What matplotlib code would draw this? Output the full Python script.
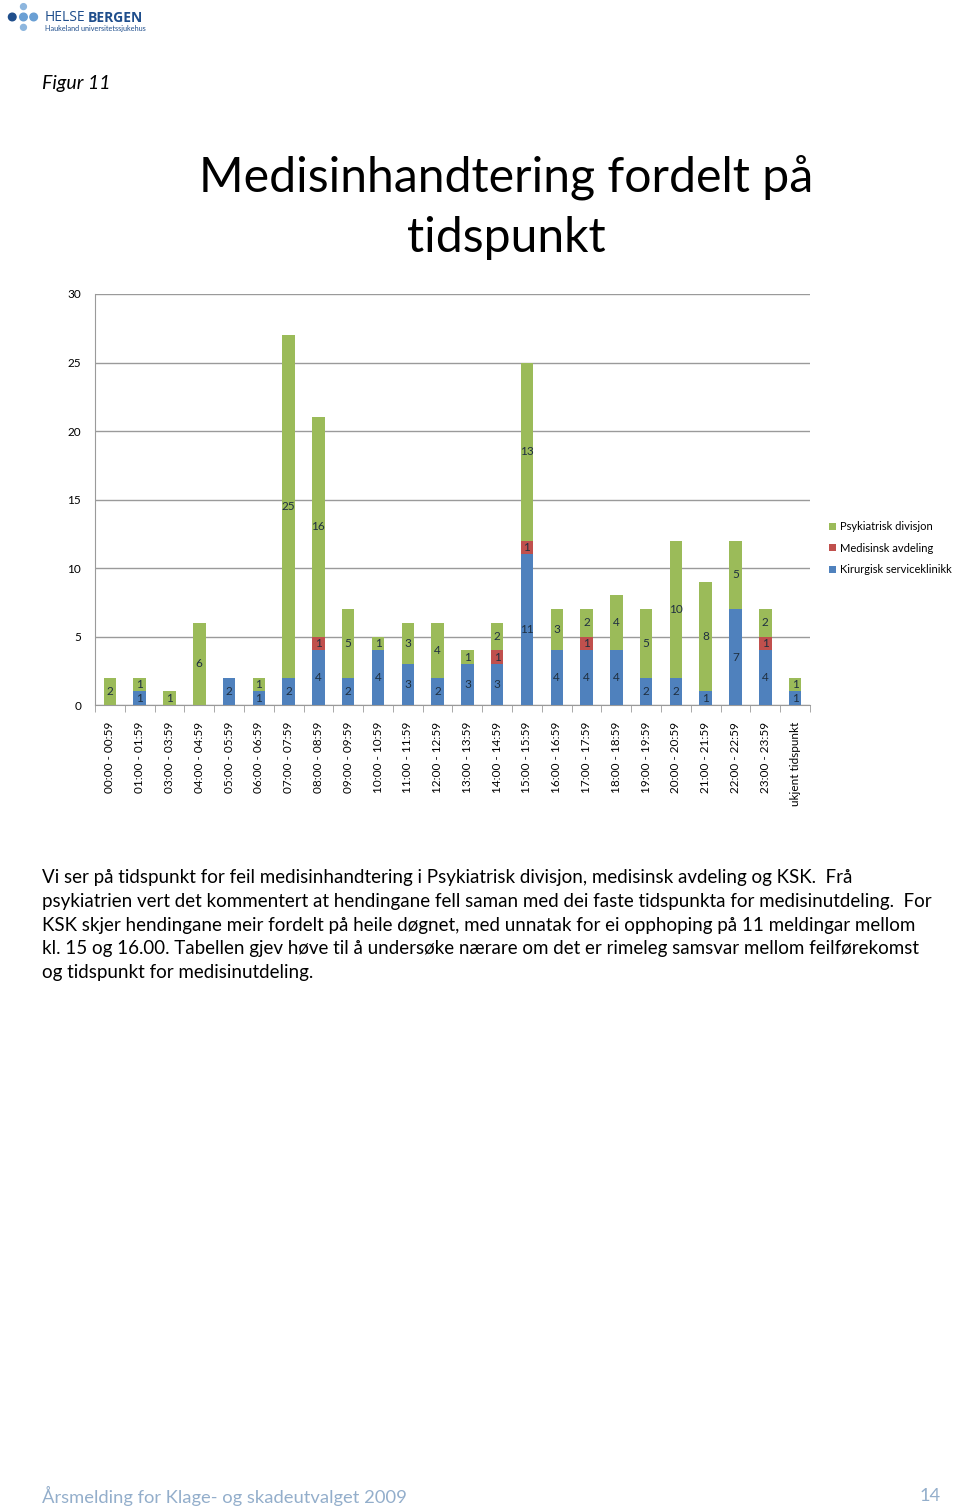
import matplotlib
matplotlib.use("Agg")
import matplotlib.pyplot as plt
import numpy as np

# data
tider = ['00:00 - 00:59', '01:00 - 01:59', '03:00 - 03:59', '04:00 - 04:59',
         '05:00 - 05:59', '06:00 - 06:59', '07:00 - 07:59', '08:00 - 08:59',
         '09:00 - 09:59', '10:00 - 10:59', '11:00 - 11:59', '12:00 - 12:59',
         '13:00 - 13:59', '14:00 - 14:59', '15:00 - 15:59', '16:00 - 16:59',
         '17:00 - 17:59', '18:00 - 18:59', '19:00 - 19:59', '20:00 - 20:59',
         '21:00 - 21:59', '22:00 - 22:59', '23:00 - 23:59', 'ukjent tidspunkt']
kirurgisk = [0, 1, 0, 0, 2, 1, 2, 4, 2, 4, 3, 2, 3, 3, 11, 4, 4, 4, 2, 2, 1, 7, 4, 1]
medisinsk = [0, 0, 0, 0, 0, 0, 0, 1, 0, 0, 0, 0, 0, 1, 1, 0, 1, 0, 0, 0, 0, 0, 1, 0]
psykiatri = [2, 1, 1, 6, 0, 1, 25, 16, 5, 1, 3, 4, 1, 2, 13, 3, 2, 4, 5, 10, 8, 5, 2, 1]

serier = [('Kirurgisk serviceklinikk', kirurgisk, '#4F81BD'),
          ('Medisinsk avdeling', medisinsk, '#C0504D'),
          ('Psykiatrisk divisjon', psykiatri, '#9BBB59')]

plt.rcParams['font.family'] = ['Lato', 'DejaVu Sans']

fig = plt.figure(figsize=(9.6, 15.09), dpi=100)

# logo
logo = fig.add_axes([0, 0.975, 0.17, 0.025])
logo.set_xlim(0, 160)
logo.set_ylim(40, 0)
logo.axis('off')
logo.scatter([12, 23, 33, 23, 23], [18, 18, 18, 7, 29], s=[30, 30, 30, 18, 18],
             c=['#1F4E8C', '#6A9FD4', '#6A9FD4', '#8DB6DE', '#8DB6DE'])
logo.text(44, 19, 'HELSE', color='#1F4E8C', fontsize=10, va='center', family='Open Sans')
logo.text(86, 19, 'BERGEN', color='#1F4E8C', fontsize=10, va='center', weight='bold', family='Open Sans')
logo.text(44, 30, 'Haukeland universitetssjukehus', color='#1F4E8C', fontsize=5.2, va='center')

fig.text(42/960, 1 - 84/1509, 'Figur 11', fontsize=14, style='italic', va='center')
fig.text(506/960, 1 - 207/1509, 'Medisinhandtering fordelt på\ntidspunkt', fontsize=34.7,
         ha='center', va='center', linespacing=1.45)

ax = fig.add_axes([95/960, 1 - 705/1509, 715/960, 411/1509])
x = np.arange(len(tider))
bunn = np.zeros(len(tider))
for navn, verdier, farge in serier:
    v = np.array(verdier)
    ax.bar(x, v, 0.42, bottom=bunn, color=farge, label=navn, zorder=3)
    for i in range(len(v)):
        if v[i] > 0:
            ax.text(x[i], bunn[i] + v[i] / 2, str(v[i]), ha='center', va='center',
                    fontsize=8.5, color='#1F2F40', zorder=4)
    bunn = bunn + v

ax.set_xlim(-0.5, len(tider) - 0.5)
ax.set_ylim(0, 30)
ax.set_yticks(range(0, 31, 5))
ax.grid(axis='y', color='#9a9a9a', linewidth=1, zorder=0)
for s in ['top', 'right']:
    ax.spines[s].set_visible(False)
ax.spines['left'].set_color('#9a9a9a')
ax.spines['bottom'].set_color('#9a9a9a')
ax.set_xticks(x)
ax.set_xticklabels(tider, rotation=90, fontsize=8.5)
ax.set_xticks(np.arange(-0.5, len(tider)), minor=True)
ax.tick_params(axis='x', which='major', length=0, pad=12)
ax.tick_params(axis='x', which='minor', length=5, color='#9a9a9a')
ax.tick_params(axis='y', length=0, labelsize=8.5, pad=10)

h, l = ax.get_legend_handles_labels()
fig.legend(h[::-1], l[::-1], loc='center left', bbox_to_anchor=(829/960, 1 - 548/1509),
           frameon=False, fontsize=8, handlelength=0.6, handleheight=0.6,
           handletextpad=0.4, labelspacing=0.95, borderaxespad=0, borderpad=0)

tekst = ['Vi ser på tidspunkt for feil medisinhandtering i Psykiatrisk divisjon, medisinsk avdeling og KSK.  Frå',
         'psykiatrien vert det kommentert at hendingane fell saman med dei faste tidspunkta for medisinutdeling.  For',
         'KSK skjer hendingane meir fordelt på heile døgnet, med unnatak for ei opphoping på 11 meldingar mellom',
         'kl. 15 og 16.00. Tabellen gjev høve til å undersøke nærare om det er rimeleg samsvar mellom feilførekomst',
         'og tidspunkt for medisinutdeling.']
for k, linje in enumerate(tekst):
    fig.text(42/960, 1 - (878 + k * 23.6)/1509, linje, fontsize=13.5, va='center')

fig.text(42/960, 1 - 1496/1509, 'Årsmelding for Klage- og skadeutvalget 2009', fontsize=13.2,
         color='#93AECB', va='center')
fig.text(941/960, 1 - 1496/1509, '14', fontsize=13.2, color='#93AECB', va='center', ha='right')

fig.savefig('out.png', dpi=100)
